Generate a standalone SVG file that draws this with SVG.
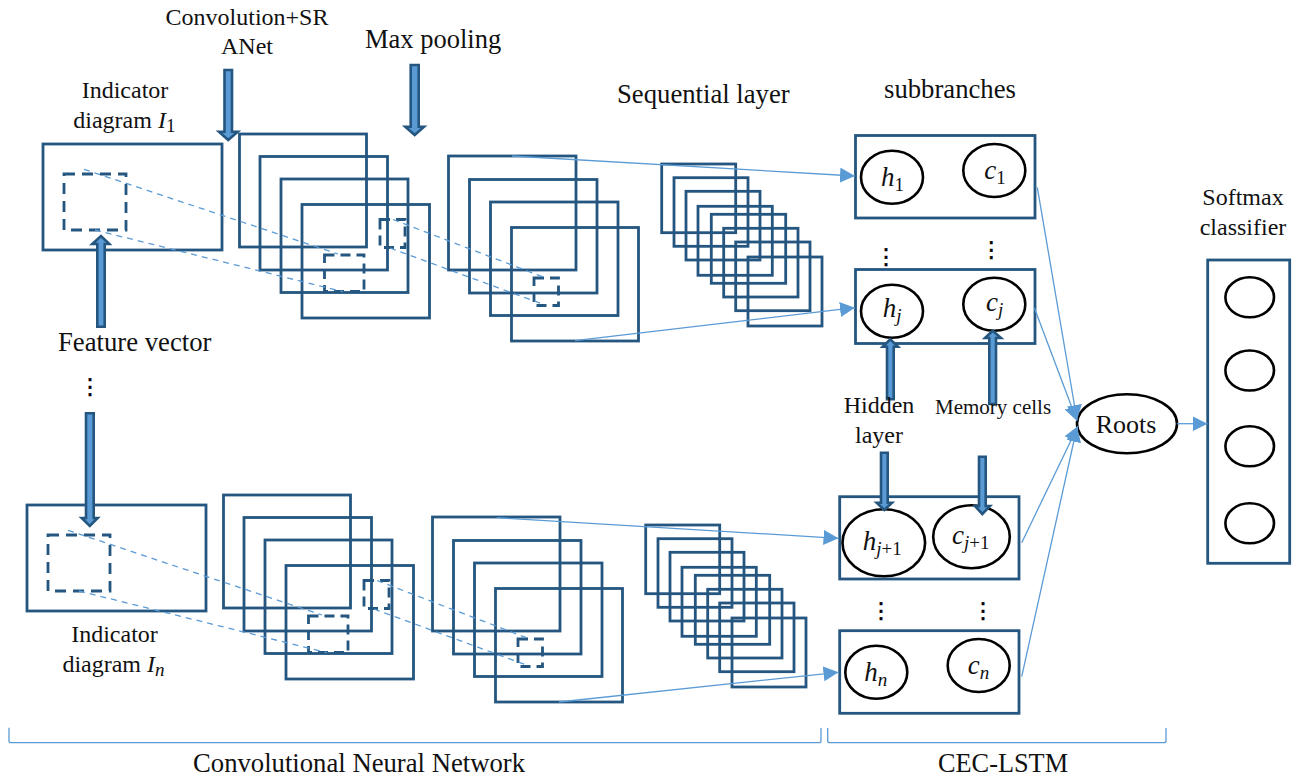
<svg xmlns="http://www.w3.org/2000/svg" width="1298" height="778" viewBox="0 0 1298 778">
<style>
text{font-family:"Liberation Serif","Times New Roman",serif;fill:#111;font-size:24px}
.b{fill:none;stroke:#245680;stroke-width:2.8}
.d1{fill:none;stroke:#245680;stroke-width:2.8;stroke-dasharray:11 7}
.d2{fill:none;stroke:#245680;stroke-width:2.8;stroke-dasharray:10 6}
.e2{fill:none;stroke:#000;stroke-width:2.6}
.l{fill:none;stroke:#5b9bd5;stroke-width:1.3}
.a{stroke:#5b9bd5;stroke-width:1.3;fill:none;marker-end:url(#tip)}
.dl{fill:none;stroke:#5b9bd5;stroke-width:1.3;stroke-dasharray:6 5}
.blk{fill:#5b9bd5;stroke:#245680;stroke-width:2.6}
.m{font-style:italic;font-size:27px}
.s{font-size:19px}
.u{font-style:normal}
.i{font-style:italic}
.v{font-family:"DejaVu Sans",sans-serif;font-size:22px;text-anchor:middle;fill:#000;stroke:#000;stroke-width:.5}
.c{text-anchor:middle}
</style>
<defs>
<marker id="tip" markerUnits="userSpaceOnUse" markerWidth="16" markerHeight="16" refX="15" refY="7.5" orient="auto"><path d="M0 0L15 7.5L0 15Z" fill="#5b9bd5"/></marker>
<g id="pipeline">
<rect class="b" x="43" y="144" width="179" height="106"/>
<rect class="d1" x="64" y="174" width="62" height="56"/>
<rect class="b" x="239.500" y="134" width="127" height="113"/>
<rect class="b" x="260" y="156.500" width="127.500" height="113.500"/>
<rect class="b" x="281" y="179" width="127" height="113.500"/>
<rect class="b" x="302" y="204.500" width="127.500" height="113.500"/>
<rect class="d2" x="380" y="219.500" width="25" height="28"/>
<rect class="d2" x="324.500" y="255" width="39.500" height="36.500"/>
<rect class="b" x="448.500" y="156" width="127.500" height="114"/>
<rect class="b" x="469.500" y="179.500" width="127.500" height="113.500"/>
<rect class="b" x="490.500" y="202" width="127.500" height="113.500"/>
<rect class="b" x="511.500" y="227.500" width="127" height="113.500"/>
<rect class="d2" x="534" y="278" width="24.500" height="27.500"/>
<rect class="b" x="661.700" y="164" width="74" height="68.700"/>
<rect class="b" x="674" y="177.700" width="74" height="68.600"/>
<rect class="b" x="686" y="191.300" width="74" height="68.700"/>
<rect class="b" x="698" y="206.300" width="74.300" height="69"/>
<rect class="b" x="711.300" y="214.300" width="74.400" height="69"/>
<rect class="b" x="723.700" y="228.300" width="74.300" height="68.700"/>
<rect class="b" x="735.700" y="242" width="74.300" height="68.700"/>
<rect class="b" x="748" y="257" width="74" height="69"/>
<path class="dl" d="M84 169.300L338 254M95 230L343 291.700M393 219.500L545 277.700M390 248L545 305"/>
</g>
</defs>
<g id="pipeline-1"><use href="#pipeline"/></g>
<g id="pipeline-n"><use href="#pipeline" transform="translate(-16,361)"/></g>
<g id="branch-1"><rect class="b" x="855.500" y="135.500" width="179.500" height="82.500"/>
<ellipse class="e2" cx="892" cy="177.300" rx="31" ry="26.500"/><ellipse class="e2" cx="994.300" cy="170.500" rx="31" ry="26.500"/>
<text class="m" x="881" y="185.700">h<tspan class="s u" dy="5">1</tspan></text><text class="m" x="984.300" y="179.300">c<tspan class="s u" dy="5">1</tspan></text></g>
<g id="branch-j"><rect class="b" x="855.500" y="269.500" width="179.500" height="74"/>
<ellipse class="e2" cx="892" cy="311.200" rx="31" ry="26.500"/><ellipse class="e2" cx="994.300" cy="304.300" rx="31" ry="26.500"/>
<text class="m" x="882.700" y="316.700">h<tspan class="s" dy="5">j</tspan></text><text class="m" x="986" y="310.700">c<tspan class="s" dy="5">j</tspan></text></g>
<g id="branch-j1"><rect class="b" x="839.700" y="496.700" width="179.300" height="82.300"/>
<ellipse class="e2" cx="883.800" cy="542.800" rx="41.300" ry="33.500"/><ellipse class="e2" cx="971.500" cy="536.700" rx="38.300" ry="31.500"/>
<text class="m" x="862.700" y="550">h<tspan class="s" dy="5">j</tspan><tspan class="s u">+1</tspan></text><text class="m" x="952" y="544">c<tspan class="s" dy="5">j</tspan><tspan class="s u">+1</tspan></text></g>
<g id="branch-n"><rect class="b" x="839.700" y="630.700" width="179.300" height="82.600"/>
<ellipse class="e2" cx="876.300" cy="672.300" rx="31" ry="26.500"/><ellipse class="e2" cx="978.700" cy="665.500" rx="31" ry="26.500"/>
<text class="m" x="864.300" y="680.700">h<tspan class="s" dy="5">n</tspan></text><text class="m" x="967.700" y="674.300">c<tspan class="s" dy="5">n</tspan></text></g>
<g id="roots"><ellipse class="e2" cx="1127" cy="423.700" rx="50" ry="29.500"/><text class="c" x="1126" y="432.700" style="font-size:26px">Roots</text></g>
<g id="softmax"><rect class="b" x="1207.700" y="260" width="82" height="303.300"/>
<ellipse class="e2" cx="1249.700" cy="297.300" rx="24.300" ry="20"/><ellipse class="e2" cx="1249.700" cy="370.500" rx="24.300" ry="20"/><ellipse class="e2" cx="1249.700" cy="446.300" rx="24.300" ry="20"/><ellipse class="e2" cx="1249.700" cy="523.300" rx="24.300" ry="20"/></g>
<g id="connectors">
<path class="a" d="M512 156L855 176"/>
<path class="a" d="M575 340.700L855 307.700"/>
<path class="a" d="M496.700 517.700L838.500 538.300"/>
<path class="a" d="M559 702L838.500 672.300"/>
<path class="a" d="M1037.300 187.300L1077 420"/>
<path class="a" d="M1034.300 307.700L1077 421"/>
<path class="a" d="M1021.700 542.700L1078 426"/>
<path class="a" d="M1021.700 676.700L1077 427"/>
<path class="a" d="M1177 423.700L1207.500 423.700"/>
<path class="l" d="M9 727.700V741Q9 742.700 11 742.700H819Q821 742.700 821 741V728"/>
<path class="l" d="M827.700 728V741Q827.700 742.700 830 742.700H1164Q1166 742.700 1166 741V728"/>
<path class="blk" d="M224.500 70H232V131.700H237.700L228.200 140L219 131.700H224.500Z"/>
<path class="blk" d="M410.700 65H418.700V126.700H424L414.700 135L405.300 126.700H410.700Z"/>
<path class="blk" d="M97.300 326.700H104.700V244H109.300L101 236L92.300 244H97.300Z"/>
<path class="blk" d="M86 413.300H93.700V518H97.700L89.800 526L81.700 518H86Z"/>
<path class="blk" d="M887 399.300H893.700V346.700H898L890.300 339.300L882.700 346.700H887Z"/>
<path class="blk" d="M989.300 404H996V338H1001L992.700 330.700L985 338H989.300Z"/>
<path class="blk" d="M881 452.700H887.700V502.700H892L884.300 510L876.700 502.700H881Z"/>
<path class="blk" d="M979 456.700H985.700V506H990L982.300 514L975 506H979Z"/>
</g>
<g id="labels">
<text class="c" x="247" y="25">Convolution+SR</text>
<text class="c" x="247" y="54.300">ANet</text>
<text x="365" y="48" style="font-size:26.500px">Max pooling</text>
<text x="617" y="103" style="font-size:26.700px">Sequential layer</text>
<text x="884" y="98" style="font-size:26.700px">subbranches</text>
<text class="c" x="1243" y="205">Softmax</text>
<text class="c" x="1243" y="235">classifier</text>
<text class="c" x="125" y="98.300">Indicator</text>
<text x="73.300" y="128.300">diagram <tspan class="i">I</tspan><tspan style="font-size:19px" dy="4">1</tspan></text>
<text x="58" y="351" style="font-size:26.700px">Feature vector</text>
<text class="c" x="114.500" y="641.700">Indicator</text>
<text x="62.400" y="672">diagram <tspan class="i">I</tspan><tspan class="i" style="font-size:19px" dy="4">n</tspan></text>
<text class="c" x="879" y="413">Hidden</text>
<text class="c" x="879" y="442.700">layer</text>
<text x="935" y="414" style="font-size:21px">Memory cells</text>
<text x="193" y="772" style="font-size:26.700px">Convolutional Neural Network</text>
<text x="938" y="772.300" style="font-size:26.300px">CEC-LSTM</text>
<text class="v" x="90" y="394">⋮</text>
<text class="v" x="886" y="264">⋮</text>
<text class="v" x="991.300" y="256.500">⋮</text>
<text class="v" x="881" y="617.500">⋮</text>
<text class="v" x="983" y="617.500">⋮</text>
</g>
</svg>
